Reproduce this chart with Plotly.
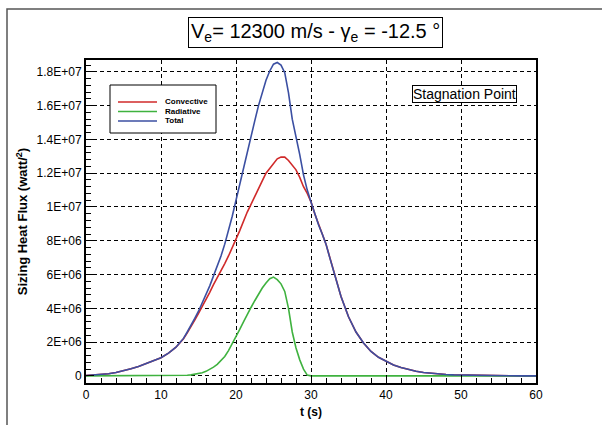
import plotly.graph_objects as go

# time (s)
t = [0, 1, 2, 3, 4, 5, 6, 7, 8, 9, 10, 11, 12,
     12.5, 13, 13.5, 14, 14.5, 15, 15.5, 16, 16.5, 17, 17.5, 18, 18.5, 19, 19.5,
     20, 20.5, 21, 21.5, 22, 22.5, 23, 23.5, 24, 24.5, 25, 25.5, 26, 26.5, 27,
     27.5, 28, 28.5, 29, 29.5, 30, 30.5, 31, 31.5, 32, 32.5, 33, 33.5, 34,
     35, 36, 37, 38, 39, 40, 41, 42, 43, 44, 45, 46, 47, 48, 49, 50, 51, 52,
     53, 54, 55, 56, 57, 58, 59, 60]

# heat flux, in 1E+06 watt/m2
convective = [0.02, 0.05, 0.08, 0.13, 0.2, 0.3, 0.42, 0.56, 0.72, 0.9, 1.08, 1.35, 1.7,
              1.95, 2.2, 2.55, 2.9, 3.3, 3.7, 4.1, 4.5, 4.95, 5.4, 5.8, 6.2, 6.65, 7.1, 7.55,
              8.1, 8.6, 9.2, 9.7, 10.15, 10.65, 11.1, 11.55, 12.0, 12.3, 12.6, 12.85, 12.95, 12.95, 12.75,
              12.5, 12.2, 11.75, 11.2, 10.8, 10.3, 9.6, 8.95, 8.4, 7.8, 7.0, 6.2, 5.45, 4.7,
              3.5, 2.6, 1.95, 1.45, 1.1, 0.85, 0.65, 0.5, 0.38, 0.28, 0.2, 0.15, 0.11, 0.08, 0.06, 0.05, 0.04, 0.02,
              0.01, 0, 0, 0, 0, 0, 0, 0]

radiative = [0, 0, 0, 0, 0, 0, 0, 0, 0, 0, 0, 0, 0,
             0.01, 0.02, 0.04, 0.06, 0.09, 0.13, 0.19, 0.27, 0.38, 0.52, 0.68, 0.9, 1.15, 1.5, 1.9,
             2.3, 2.75, 3.2, 3.65, 4.05, 4.45, 4.85, 5.2, 5.5, 5.75, 5.85, 5.7, 5.45, 5.0, 4.0,
             2.6, 1.65, 0.95, 0.4, 0.05, 0, 0, 0, 0, 0, 0, 0, 0, 0,
             0, 0, 0, 0, 0, 0, 0, 0, 0, 0, 0, 0, 0, 0, 0, 0, 0, 0,
             0, 0, 0, 0, 0, 0, 0, 0]

total = [0.02, 0.05, 0.08, 0.13, 0.2, 0.3, 0.42, 0.56, 0.72, 0.9, 1.08, 1.35, 1.7,
         1.96, 2.22, 2.6, 2.96, 3.4, 3.83, 4.3, 4.77, 5.33, 5.92, 6.5, 7.1, 7.8, 8.6, 9.45,
         10.4, 11.35, 12.4, 13.35, 14.2, 15.1, 16.0, 16.75, 17.5, 18.05, 18.45, 18.55, 18.4, 17.95, 16.75,
         15.2, 14.2, 13.1, 11.9, 11.0, 10.3, 9.6, 8.95, 8.4, 7.8, 7.0, 6.2, 5.45, 4.7,
         3.5, 2.6, 1.95, 1.45, 1.1, 0.85, 0.65, 0.5, 0.38, 0.28, 0.2, 0.15, 0.11, 0.08, 0.06, 0.05, 0.04, 0.02,
         0.01, 0, 0, 0, 0, 0, 0, 0]

y_tickvals = [0, 2e6, 4e6, 6e6, 8e6, 1e7, 1.2e7, 1.4e7, 1.6e7, 1.8e7]
y_ticktext = ["0", "2E+06", "4E+06", "6E+06", "8E+06", "1E+07", "1.2E+07", "1.4E+07", "1.6E+07", "1.8E+07"]

series_names = ["Convective", "Radiative", "Total"]
series_colors = ["#d02a2a", "#3fb23f", "#3b4fa2"]

FONT = "Liberation Sans, Arial, sans-serif"

# plot area in pixels (602x425 page)
L, R, T, B = 86, 536, 60, 383


def px(x):
    return (x - L) / (R - L)


def py(y):
    return (B - y) / (B - T)


fig = go.Figure()
for name, vals, col in zip(series_names, [convective, radiative, total], series_colors):
    fig.add_trace(go.Scatter(x=t, y=[v * 1e6 for v in vals], mode="lines", name=name,
                             line=dict(color=col, width=1.6), showlegend=False))

axis_common = dict(
    showline=True, linecolor="black", linewidth=2, mirror=True, automargin=False,
    ticks="inside", ticklen=8, tickwidth=1, tickcolor="black",
    showgrid=True, gridcolor="black", gridwidth=1, griddash="4px,3px",
    zeroline=False, tickfont=dict(family=FONT, size=12, color="black"),
)

fig.update_xaxes(range=[0, 60], tickvals=[0, 10, 20, 30, 40, 50, 60],
                 minor=dict(dtick=2, ticks="inside", ticklen=5, tickcolor="black", showgrid=False),
                 title=dict(text="<b>t (s)</b>", font=dict(family=FONT, size=12, color="black"), standoff=6),
                 **axis_common)
fig.update_yaxes(range=[-0.42e6, 1.87e7], tickvals=y_tickvals, ticktext=y_ticktext,
                 minor=dict(dtick=4e5, ticks="inside", ticklen=5, tickcolor="black", showgrid=False),
                 title=dict(text="<b>Sizing Heat Flux (watt/<sup>2</sup>)</b>",
                            font=dict(family=FONT, size=13, color="black"), standoff=6),
                 **axis_common)

shapes = [
    # outer frame
    dict(type="rect", xref="paper", yref="paper", x0=px(7), x1=px(640), y0=py(9), y1=py(460),
         line=dict(color="#555555", width=1.5), layer="below"),
    # legend box
    dict(type="rect", xref="paper", yref="paper", x0=px(110), x1=px(216), y0=py(133), y1=py(85),
         line=dict(color="black", width=1), fillcolor="white", layer="above"),
]
annotations = [
    dict(text="V<sub>e</sub>= 12300 m/s - γ<sub>e</sub> = -12.5 °", xref="paper", yref="paper",
         x=px(315.5), y=py(33), xanchor="center", yanchor="middle", showarrow=False,
         font=dict(family=FONT, size=20, color="black"), bordercolor="black", borderwidth=1,
         borderpad=2, bgcolor="white"),
    dict(text="Stagnation Point", xref="paper", yref="paper",
         x=px(464), y=py(94), xanchor="center", yanchor="middle", showarrow=False,
         font=dict(family=FONT, size=14, color="black"), bordercolor="black", borderwidth=1,
         borderpad=0, bgcolor="white"),
]
for i, (name, col) in enumerate(zip(series_names, series_colors)):
    yy = [102, 111.5, 121][i]
    shapes.append(dict(type="line", xref="paper", yref="paper", x0=px(118), x1=px(157),
                       y0=py(yy), y1=py(yy), line=dict(color=col, width=1.6), layer="above"))
    annotations.append(dict(text="<b>" + name + "</b>", xref="paper", yref="paper",
                            x=px(163), y=py(yy), xanchor="left", yanchor="middle", showarrow=False,
                            font=dict(family=FONT, size=8, color="black")))

fig.update_layout(
    width=602, height=425,
    margin=dict(l=L, r=602 - R, t=T, b=425 - B, autoexpand=False),
    paper_bgcolor="white", plot_bgcolor="white",
    font=dict(family=FONT, color="black"),
    shapes=shapes, annotations=annotations,
)

# drop the default page margin so the figure sits at the top-left corner
fig.write_html("out.html", config={"displayModeBar": False},
               post_script="document.body.style.margin='0';document.body.style.overflow='hidden';")
